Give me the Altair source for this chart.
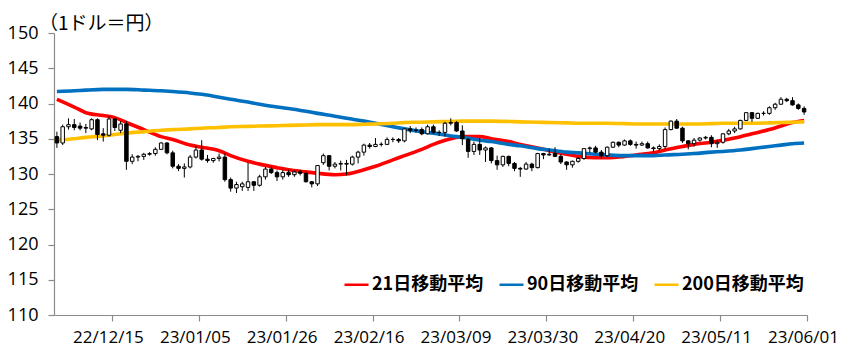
import altair as alt
import pandas as pd
import numpy as np

# ---------------- data ----------------
tick_labels = ["22/12/15", "23/01/05", "23/01/26", "23/02/16", "23/03/09",
               "23/03/30", "23/04/20", "23/05/11", "23/06/01"]
tick_pos = [10, 25, 40, 55, 70, 85, 100, 115, 130]

opens = [135.3, 134.4, 136.7, 137.0, 136.8, 136.6, 136.4, 137.7, 135.7, 135.5,
         137.8, 136.2, 137.1, 131.8, 132.4, 132.5, 132.8, 132.9, 133.5, 134.4,
         133.0, 131.1, 130.8, 131.0, 132.4, 133.4, 132.1, 131.9, 132.2, 132.4,
         129.2, 128.0, 128.2, 128.1, 128.9, 128.4, 129.6, 130.7, 130.2, 129.6,
         130.2, 129.9, 130.3, 130.1, 128.9, 128.6, 131.6, 132.6, 131.1, 131.4,
         131.5, 131.4, 132.4, 133.1, 134.1, 133.9, 134.2, 134.2, 134.9, 134.9,
         134.7, 136.4, 136.2, 136.3, 135.7, 136.7, 135.9, 135.9, 137.2, 137.3,
         136.1, 134.9, 133.2, 134.2, 133.4, 133.7, 131.9, 131.3, 132.5, 131.5,
         130.8, 130.7, 131.4, 130.9, 132.9, 132.7, 132.9, 132.5, 131.7, 131.3,
         131.8, 132.2, 133.6, 133.7, 133.1, 132.6, 133.8, 134.5, 134.1, 134.7,
         134.2, 134.1, 134.3, 133.7, 133.6, 133.9, 136.3, 137.5, 136.5, 134.7,
         134.3, 134.8, 135.1, 135.2, 134.3, 134.5, 135.7, 136.1, 136.4, 137.6,
         138.7, 137.9, 138.6, 138.6, 139.4, 139.9, 140.6, 140.4, 139.8, 139.3]
highs = [136.0, 137.0, 137.9, 137.8, 137.3, 137.1, 137.9, 137.9, 136.5, 138.2,
         137.9, 137.5, 137.5, 132.8, 132.7, 133.0, 133.1, 133.8, 134.5, 134.5,
         133.3, 131.4, 131.5, 132.7, 134.0, 134.8, 132.7, 132.3, 132.9, 132.9,
         129.5, 128.9, 128.9, 131.6, 129.0, 129.9, 131.0, 131.1, 130.5, 130.6,
         130.6, 130.5, 130.6, 130.3, 129.0, 131.2, 132.9, 132.7, 131.7, 131.9,
         132.0, 132.6, 133.3, 134.3, 134.4, 135.1, 134.5, 135.2, 135.2, 135.1,
         136.5, 136.8, 136.6, 136.6, 137.0, 137.0, 136.2, 137.4, 137.9, 137.5,
         136.9, 135.1, 134.6, 135.1, 133.9, 133.8, 132.6, 132.6, 132.6, 131.7,
         131.0, 131.7, 131.6, 133.0, 133.0, 133.6, 133.8, 132.8, 131.8, 131.9,
         132.4, 133.6, 133.9, 134.0, 133.4, 133.9, 134.6, 134.6, 134.9, 134.9,
         134.6, 134.6, 134.6, 133.9, 134.2, 136.6, 137.6, 137.8, 136.7, 134.8,
         135.1, 135.2, 135.4, 135.5, 134.8, 135.8, 136.4, 136.7, 137.7, 138.7,
         138.8, 138.7, 138.9, 139.6, 140.1, 140.9, 140.8, 140.9, 140.0, 139.6]
lows = [133.7, 134.1, 136.3, 136.2, 136.2, 135.8, 136.2, 134.8, 134.6, 135.3,
        136.1, 135.8, 130.6, 131.4, 131.8, 132.0, 132.6, 132.6, 133.4, 132.8,
        130.8, 130.4, 129.5, 130.8, 132.2, 131.9, 131.6, 131.6, 131.8, 128.9,
        127.5, 127.3, 127.6, 127.6, 127.6, 128.2, 129.2, 130.0, 129.0, 129.2,
        129.6, 129.6, 129.8, 128.8, 128.1, 128.3, 131.3, 130.5, 130.8, 130.5,
        129.8, 131.2, 131.5, 132.6, 133.6, 133.8, 133.9, 134.1, 134.5, 134.4,
        134.5, 135.8, 135.9, 135.5, 135.6, 135.7, 135.4, 135.3, 136.9, 136.0,
        134.1, 132.3, 132.7, 132.7, 131.7, 131.5, 130.6, 131.0, 131.1, 130.4,
        129.6, 130.6, 130.4, 130.8, 132.1, 132.6, 132.4, 131.4, 130.6, 130.9,
        131.6, 132.0, 133.0, 132.9, 132.2, 132.4, 133.7, 133.8, 134.0, 134.0,
        133.6, 134.0, 133.6, 133.1, 133.3, 133.5, 136.2, 136.4, 134.4, 133.5,
        133.9, 134.6, 134.9, 133.8, 133.7, 134.3, 135.5, 135.8, 136.3, 137.5,
        137.4, 137.8, 138.3, 138.4, 139.1, 139.8, 140.2, 139.7, 139.1, 138.4]
closes = [134.4, 136.7, 137.0, 136.6, 136.5, 136.5, 137.7, 135.6, 135.5, 137.8,
          136.6, 137.1, 131.8, 132.4, 132.5, 132.8, 132.9, 133.5, 134.4, 133.0,
          131.1, 130.8, 131.0, 132.4, 133.4, 132.1, 131.9, 132.2, 132.4, 129.2,
          128.0, 128.5, 128.6, 128.9, 128.4, 129.6, 130.7, 130.2, 129.6, 130.2,
          129.9, 130.3, 130.1, 128.9, 128.6, 131.2, 132.6, 131.1, 131.4, 131.5,
          131.4, 132.4, 133.1, 134.1, 133.9, 134.2, 134.2, 134.9, 134.9, 134.7,
          136.4, 136.2, 136.2, 135.7, 136.7, 135.9, 135.9, 137.2, 137.3, 136.1,
          135.0, 133.2, 134.2, 133.4, 133.7, 131.9, 131.3, 132.5, 131.5, 130.8,
          130.7, 131.4, 130.9, 132.9, 132.7, 132.8, 132.5, 131.7, 131.3, 131.8,
          132.2, 133.6, 133.7, 133.1, 132.6, 133.8, 134.5, 134.1, 134.7, 134.2,
          134.1, 134.3, 133.7, 133.6, 133.9, 136.3, 137.5, 136.5, 134.7, 134.3,
          134.8, 135.1, 135.2, 134.3, 134.5, 135.7, 136.1, 136.4, 137.6, 138.7,
          137.9, 138.6, 138.6, 139.4, 139.9, 140.6, 140.4, 139.8, 139.3, 138.8]

ma_idx = [0, 3, 5, 8, 10, 12, 15, 18, 20, 23, 25, 28, 30, 33, 35, 38, 40, 43, 45,
          48, 50, 53, 55, 58, 60, 63, 65, 68, 70, 73, 75, 78, 80, 83, 85, 88, 90,
          93, 95, 98, 100, 103, 105, 108, 110, 113, 115, 118, 120, 123, 125, 127, 129]
ma21 = [140.6, 139.5, 138.7, 138.3, 138.0, 137.3, 136.3, 135.3, 134.9, 134.1,
        133.8, 133.3, 132.6, 131.8, 131.4, 130.9, 130.6, 130.3, 130.1, 129.9,
        130.0, 130.6, 131.1, 132.0, 132.6, 133.5, 134.2, 135.0, 135.3, 135.3,
        135.0, 134.6, 134.2, 133.7, 133.3, 132.8, 132.5, 132.3, 132.3, 132.5,
        132.7, 133.0, 133.4, 133.9, 134.2, 134.5, 134.8, 135.3, 135.7, 136.3,
        136.8, 137.3, 137.6]
ma90 = [141.7, 141.8, 141.9, 142.0, 142.0, 142.0, 141.9, 141.8, 141.7, 141.5,
        141.3, 140.9, 140.6, 140.2, 139.9, 139.5, 139.3, 138.9, 138.6, 138.2,
        137.9, 137.5, 137.2, 136.7, 136.4, 136.0, 135.8, 135.4, 135.2, 134.8,
        134.6, 134.2, 134.0, 133.6, 133.4, 133.1, 133.0, 132.8, 132.7, 132.6,
        132.6, 132.6, 132.7, 132.8, 132.9, 133.1, 133.2, 133.4, 133.6, 133.9,
        134.1, 134.3, 134.4]
ma200 = [134.8, 135.0, 135.2, 135.4, 135.6, 135.8, 136.0, 136.2, 136.3, 136.4,
         136.5, 136.6, 136.7, 136.75, 136.8, 136.85, 136.9, 136.95, 137.0, 137.0,
         137.0, 137.05, 137.1, 137.2, 137.3, 137.35, 137.4, 137.45, 137.5, 137.5,
         137.5, 137.45, 137.4, 137.35, 137.3, 137.25, 137.2, 137.2, 137.2, 137.15,
         137.1, 137.1, 137.1, 137.1, 137.1, 137.15, 137.2, 137.2, 137.2, 137.25,
         137.3, 137.35, 137.4]

series_names = ["21日移動平均", "90日移動平均", "200日移動平均"]
series_colors = ["#FF0000", "#0070C0", "#FFC000"]
title_text = "（1ドル＝円）"

# ---------------- tables ----------------
n = len(opens)
cdf = pd.DataFrame({"i": np.arange(n), "open": opens, "high": highs,
                    "low": lows, "close": closes})
cdf["xc"] = cdf["i"] + 0.5
cdf["x0"] = cdf["i"] + 0.2
cdf["x1"] = cdf["i"] + 0.8
cdf["dir"] = np.where(cdf["close"] >= cdf["open"], "up", "down")

rows = []
for name, vals in zip(series_names, [ma21, ma90, ma200]):
    for k, v in zip(ma_idx, vals):
        rows.append({"series": name, "xc": k + 0.5, "v": v})
mdf = pd.DataFrame(rows)

FONT = "Open Sans"
CJK = "Noto Sans CJK JP"
AX_COLOR = "#8A8A8A"

label_expr = "[" + ",".join(f"'{t}'" for t in tick_labels) + "][round((datum.value-10)/15)]"

xscale = alt.Scale(domain=[0, 130], nice=False, zero=False)
yscale = alt.Scale(domain=[110, 150], nice=False, zero=False)
xaxis = alt.Axis(values=tick_pos, labelExpr=label_expr, grid=False, tickSize=6,
                 labelOffset=-4, labelPadding=8, title=None, labelFlush=False,
                 labelOverlap=False, labelFontSize=17)
yaxis = alt.Axis(values=list(range(110, 151, 5)), grid=False, tickSize=6,
                 labelPadding=10, title=None, labelFontSize=18)


def X(field):
    return alt.X(field, type="quantitative", scale=xscale, axis=xaxis)


def Y(field):
    return alt.Y(field, type="quantitative", scale=yscale, axis=yaxis)


lines = alt.Chart(mdf).mark_line(strokeWidth=3.6, interpolate="monotone").encode(
    x=X("xc"),
    y=Y("v"),
    color=alt.Color("series:N",
                    scale=alt.Scale(domain=series_names, range=series_colors),
                    sort=series_names,
                    legend=alt.Legend(title=None, orient="none", direction="horizontal",
                                      legendX=289, legendY=238,
                                      symbolType="stroke", symbolSize=576,
                                      symbolStrokeWidth=2.5, labelOffset=2,
                                      gridAlign="all", columnPadding=0, padding=0,
                                      labelFont=CJK, labelFontSize=18,
                                      labelFontWeight="bold", labelColor="#000000",
                                      labelLimit=300)),
    detail="series:N",
)

wicks = alt.Chart(cdf).mark_rule(color="#000000", strokeWidth=1).encode(
    x=X("xc"), y=Y("low"), y2="high"
)

bodies = alt.Chart(cdf).mark_rect(stroke="#000000", strokeWidth=1).encode(
    x=X("x0"), x2="x1", y=Y("open"), y2="close",
    fill=alt.Fill("dir:N", scale=alt.Scale(domain=["up", "down"],
                                           range=["#FFFFFF", "#000000"]),
                  legend=None),
)

title = alt.Chart(pd.DataFrame({"t": [title_text]})).mark_text(
    align="left", baseline="middle", font=CJK, fontSize=19, color="#000000"
).encode(text="t:N", x=alt.value(-15), y=alt.value(-9.5))

chart = alt.layer(lines, wicks, bodies, title).properties(
    width=753, height=282,
    autosize=alt.AutoSizeParams(type="none"),
    padding={"left": 46, "top": 25, "right": 32, "bottom": 35},
).configure_view(stroke=None).configure_axis(
    domainColor=AX_COLOR, tickColor=AX_COLOR, domainWidth=1.2, tickWidth=1.2,
    labelFont=FONT, labelColor="#000000",
)

chart.save("out.html", embed_options={"renderer": "svg", "actions": False})
